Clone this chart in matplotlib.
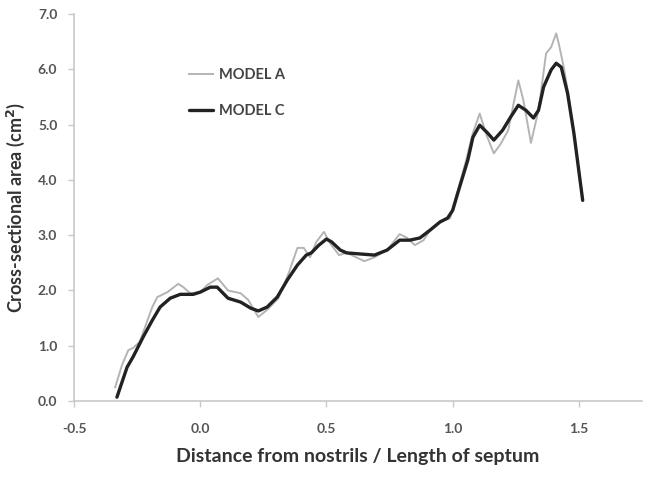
import matplotlib
matplotlib.use("Agg")
import matplotlib.pyplot as plt

plt.rcParams['font.family'] = ['Lato', 'DejaVu Sans']

# MODEL A (thin grey line)
xa = [-0.337, -0.31, -0.285, -0.266, -0.24, -0.19, -0.17, -0.13, -0.087, -0.067, -0.04,
      0.0, 0.028, 0.07, 0.11, 0.16, 0.19, 0.23, 0.265, 0.31, 0.35, 0.385, 0.41, 0.435,
      0.46, 0.49, 0.515, 0.55, 0.58, 0.65, 0.69, 0.74, 0.79, 0.82, 0.85, 0.885, 0.91,
      0.95, 0.99, 1.02, 1.05, 1.08, 1.107, 1.135, 1.163, 1.19, 1.22, 1.26, 1.28, 1.31,
      1.34, 1.37, 1.39, 1.41, 1.42, 1.44, 1.46, 1.48, 1.515]
ya = [0.25, 0.65, 0.92, 0.96, 1.07, 1.70, 1.88, 1.97, 2.12, 2.06, 1.95,
      1.97, 2.10, 2.22, 2.00, 1.95, 1.83, 1.52, 1.65, 1.86, 2.31, 2.77, 2.77, 2.60,
      2.88, 3.06, 2.85, 2.64, 2.68, 2.53, 2.60, 2.73, 3.02, 2.95, 2.82, 2.91, 3.09,
      3.24, 3.31, 3.80, 4.30, 4.85, 5.20, 4.80, 4.48, 4.65, 4.90, 5.80, 5.44, 4.67,
      5.26, 6.29, 6.40, 6.65, 6.47, 6.04, 5.50, 4.85, 3.63]

# MODEL C (thick dark line)
xc = [-0.33, -0.29, -0.266, -0.226, -0.19, -0.159, -0.119, -0.079, -0.028, 0.0, 0.04,
      0.067, 0.11, 0.16, 0.20, 0.23, 0.265, 0.305, 0.345, 0.385, 0.42, 0.44, 0.47, 0.50,
      0.52, 0.555, 0.58, 0.635, 0.69, 0.74, 0.79, 0.83, 0.87, 0.91, 0.95, 0.98, 1.0,
      1.02, 1.06, 1.08, 1.107, 1.138, 1.163, 1.198, 1.23, 1.26, 1.29, 1.32, 1.34, 1.36,
      1.39, 1.41, 1.43, 1.455, 1.48, 1.515]
yc = [0.07, 0.61, 0.80, 1.16, 1.46, 1.70, 1.86, 1.93, 1.93, 1.97, 2.06,
      2.06, 1.86, 1.79, 1.68, 1.63, 1.70, 1.88, 2.19, 2.46, 2.64, 2.68, 2.82, 2.93,
      2.88, 2.73, 2.68, 2.66, 2.64, 2.73, 2.91, 2.91, 2.95, 3.09, 3.24, 3.31, 3.45,
      3.76, 4.36, 4.77, 4.99, 4.85, 4.72, 4.90, 5.14, 5.35, 5.26, 5.12, 5.26, 5.68,
      5.99, 6.11, 6.04, 5.57, 4.85, 3.63]

xticks = [-0.5, 0.0, 0.5, 1.0, 1.5]
yticks = [0.0, 1.0, 2.0, 3.0, 4.0, 5.0, 6.0, 7.0]

fig = plt.figure(figsize=(6.51, 4.78), dpi=100)
ax = fig.add_axes([0.1137, 0.161, 0.8725, 0.8096])

ax.plot(xa, ya, color='#b4b4b4', lw=1.4, solid_joinstyle='round', label='MODEL A')
ax.plot(xc, yc, color='#222222', lw=2.4, solid_joinstyle='round',
        solid_capstyle='round', label='MODEL C')

ax.set_xlim(-0.5, 1.75)
ax.set_ylim(0, 7.0)
ax.set_xticks(xticks)
ax.set_xticklabels(['%.1f' % v for v in xticks])
ax.set_yticks(yticks)
ax.set_yticklabels(['%.1f' % v for v in yticks])

for s in ['top', 'right']:
    ax.spines[s].set_visible(False)
for s in ['left', 'bottom']:
    ax.spines[s].set_color('#c8c8c8')
    ax.spines[s].set_linewidth(1.2)

ax.tick_params(axis='both', colors='#c8c8c8', labelcolor='#555555', length=4,
               width=1.0, labelsize=10)
ax.tick_params(axis='x', pad=12)
ax.tick_params(axis='y', pad=8)
for t in ax.get_xticklabels() + ax.get_yticklabels():
    t.set_fontweight('bold')

ax.set_xlabel('Distance from nostrils / Length of septum', fontsize=14,
              fontweight='bold', color='#333333', labelpad=9)
ax.set_ylabel('Cross-sectional area (cm$^\\mathbf{2}$)', fontsize=13,
              fontweight='bold', color='#333333', labelpad=8)

leg = ax.legend(loc='upper left', bbox_to_anchor=(0.18, 0.895), frameon=False,
                handlelength=1.6, handletextpad=0.4, labelspacing=1.5,
                prop={'weight': 'bold', 'size': 10.5})
for t in leg.get_texts():
    t.set_color('#444444')

fig.savefig('out.png', dpi=100)
